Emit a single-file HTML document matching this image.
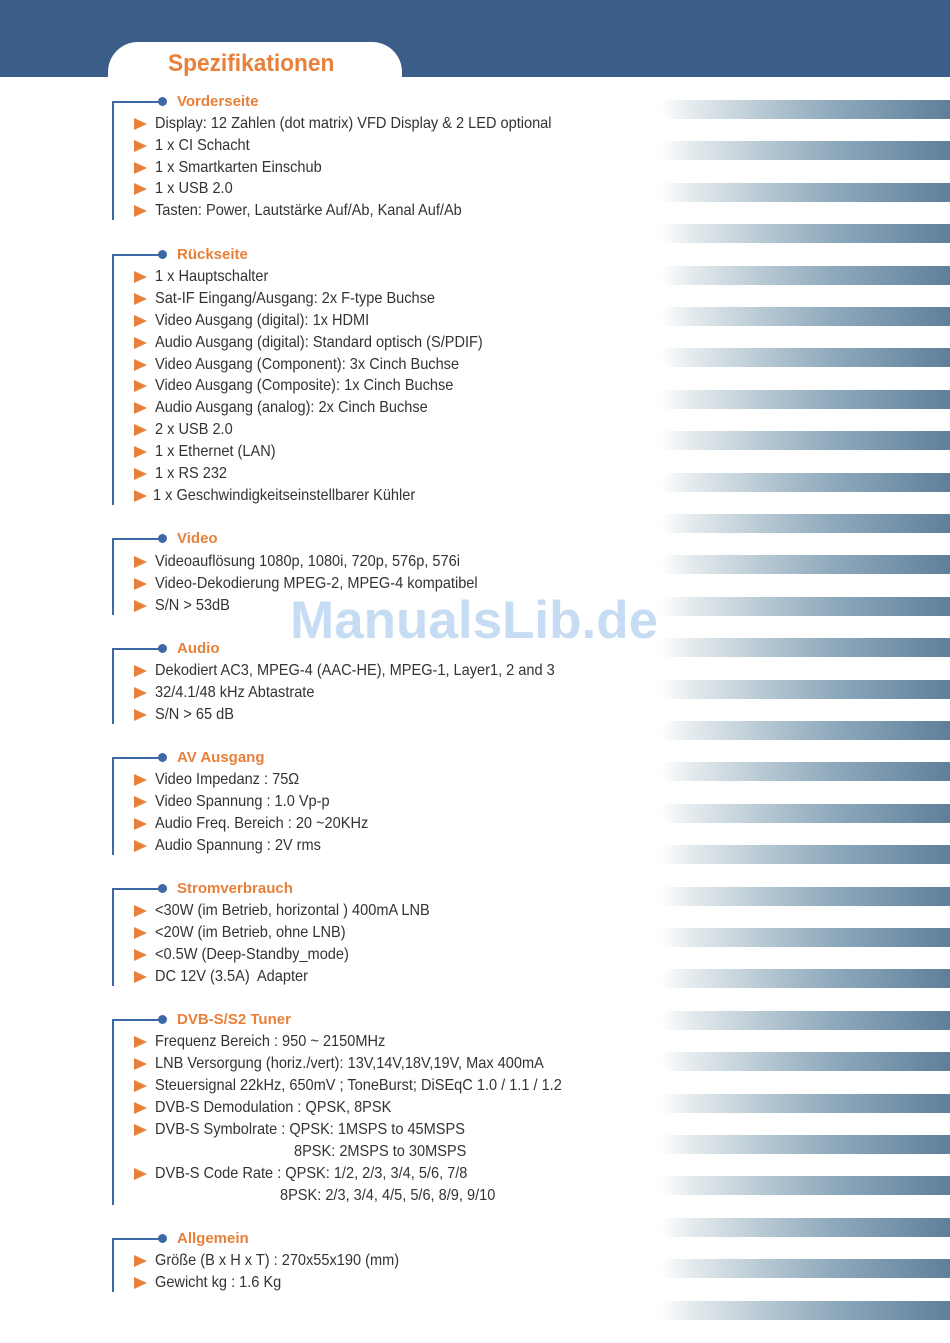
<!DOCTYPE html>
<html><head><meta charset="utf-8">
<style>
html,body{margin:0;padding:0;}
body{width:950px;height:1343px;position:relative;background:#fff;overflow:hidden;font-family:"Liberation Sans",sans-serif;}
.band{position:absolute;left:0;top:0;width:950px;height:77px;background:#3b5e88;}
.tab{position:absolute;left:108px;top:42px;width:294px;height:60px;background:#fff;border-radius:30px 30px 0 0;}
.title{position:absolute;left:168px;top:50px;font-weight:bold;font-size:24px;color:#e8803a;transform:scaleX(0.945);transform-origin:left;white-space:nowrap;}
.st{position:absolute;left:660px;width:290px;height:19px;background:linear-gradient(to right,#fff 0%,#e6ecef 10%,#b8c9d3 35%,#8ea9bc 60%,#5e7f9b 100%);}
.h{position:absolute;left:177px;height:20px;line-height:20px;font-weight:bold;font-size:15px;color:#e8803a;white-space:nowrap;}
.i{position:absolute;left:155px;height:20px;line-height:20px;font-size:16px;color:#333;white-space:pre;transform:scaleX(0.91);transform-origin:left;}
.a{position:absolute;left:134px;width:0;height:0;border-left:13px solid #e8803a;border-top:6px solid transparent;border-bottom:6px solid transparent;}
.vl{position:absolute;left:112px;width:2px;background:#3d68a6;}
.hl{position:absolute;left:112px;width:48px;height:2px;background:#3d68a6;}
.dot{position:absolute;left:158px;width:9px;height:9px;border-radius:50%;background:#3d68a6;}
.wm{position:absolute;left:290px;top:590px;font-weight:bold;font-size:53px;color:#bcd7f2;opacity:0.85;white-space:nowrap;}
</style></head><body>
<div class="band"></div>
<div class="tab"></div>
<div class="title">Spezifikationen</div>
<div class="st" style="top:100px"></div><div class="st" style="top:141px"></div><div class="st" style="top:183px"></div><div class="st" style="top:224px"></div><div class="st" style="top:266px"></div><div class="st" style="top:307px"></div><div class="st" style="top:348px"></div><div class="st" style="top:390px"></div><div class="st" style="top:431px"></div><div class="st" style="top:473px"></div><div class="st" style="top:514px"></div><div class="st" style="top:555px"></div><div class="st" style="top:597px"></div><div class="st" style="top:638px"></div><div class="st" style="top:680px"></div><div class="st" style="top:721px"></div><div class="st" style="top:762px"></div><div class="st" style="top:804px"></div><div class="st" style="top:845px"></div><div class="st" style="top:887px"></div><div class="st" style="top:928px"></div><div class="st" style="top:969px"></div><div class="st" style="top:1011px"></div><div class="st" style="top:1052px"></div><div class="st" style="top:1094px"></div><div class="st" style="top:1135px"></div><div class="st" style="top:1176px"></div><div class="st" style="top:1218px"></div><div class="st" style="top:1259px"></div><div class="st" style="top:1301px"></div>

<div class="vl" style="top:101px;height:119px"></div><div class="hl" style="top:101px"></div><div class="dot" style="top:97px"></div>
<div class="h" style="top:92px">Vorderseite</div>
<div class="a" style="top:118px"></div><div class="i" style="top:114px">Display: 12 Zahlen (dot matrix) VFD Display &amp; 2 LED optional</div>
<div class="a" style="top:140px"></div><div class="i" style="top:136px">1 x CI Schacht</div>
<div class="a" style="top:162px"></div><div class="i" style="top:158px">1 x Smartkarten Einschub</div>
<div class="a" style="top:183px"></div><div class="i" style="top:179px">1 x USB 2.0</div>
<div class="a" style="top:205px"></div><div class="i" style="top:201px">Tasten: Power, Lautstärke Auf/Ab, Kanal Auf/Ab</div>

<div class="vl" style="top:254px;height:251px"></div><div class="hl" style="top:254px"></div><div class="dot" style="top:250px"></div>
<div class="h" style="top:245px">Rückseite</div>
<div class="a" style="top:271px"></div><div class="i" style="top:267px">1 x Hauptschalter</div>
<div class="a" style="top:293px"></div><div class="i" style="top:289px">Sat-IF Eingang/Ausgang: 2x F-type Buchse</div>
<div class="a" style="top:315px"></div><div class="i" style="top:311px">Video Ausgang (digital): 1x HDMI</div>
<div class="a" style="top:337px"></div><div class="i" style="top:333px">Audio Ausgang (digital): Standard optisch (S/PDIF)</div>
<div class="a" style="top:359px"></div><div class="i" style="top:355px">Video Ausgang (Component): 3x Cinch Buchse</div>
<div class="a" style="top:380px"></div><div class="i" style="top:376px">Video Ausgang (Composite): 1x Cinch Buchse</div>
<div class="a" style="top:402px"></div><div class="i" style="top:398px">Audio Ausgang (analog): 2x Cinch Buchse</div>
<div class="a" style="top:424px"></div><div class="i" style="top:420px">2 x USB 2.0</div>
<div class="a" style="top:446px"></div><div class="i" style="top:442px">1 x Ethernet (LAN)</div>
<div class="a" style="top:468px"></div><div class="i" style="top:464px">1 x RS 232</div>
<div class="a" style="top:490px"></div><div class="i" style="top:486px;left:153px">1 x Geschwindigkeitseinstellbarer Kühler</div>

<div class="vl" style="top:538px;height:77px"></div><div class="hl" style="top:538px"></div><div class="dot" style="top:534px"></div>
<div class="h" style="top:529px">Video</div>
<div class="a" style="top:556px"></div><div class="i" style="top:552px">Videoauflösung 1080p, 1080i, 720p, 576p, 576i</div>
<div class="a" style="top:578px"></div><div class="i" style="top:574px">Video-Dekodierung MPEG-2, MPEG-4 kompatibel</div>
<div class="a" style="top:600px"></div><div class="i" style="top:596px">S/N &gt; 53dB</div>

<div class="vl" style="top:648px;height:76px"></div><div class="hl" style="top:648px"></div><div class="dot" style="top:644px"></div>
<div class="h" style="top:639px">Audio</div>
<div class="a" style="top:665px"></div><div class="i" style="top:661px">Dekodiert AC3, MPEG-4 (AAC-HE), MPEG-1, Layer1, 2 and 3</div>
<div class="a" style="top:687px"></div><div class="i" style="top:683px">32/4.1/48 kHz Abtastrate</div>
<div class="a" style="top:709px"></div><div class="i" style="top:705px">S/N &gt; 65 dB</div>

<div class="vl" style="top:757px;height:98px"></div><div class="hl" style="top:757px"></div><div class="dot" style="top:753px"></div>
<div class="h" style="top:748px">AV Ausgang</div>
<div class="a" style="top:774px"></div><div class="i" style="top:770px">Video Impedanz : 75Ω</div>
<div class="a" style="top:796px"></div><div class="i" style="top:792px">Video Spannung : 1.0 Vp-p</div>
<div class="a" style="top:818px"></div><div class="i" style="top:814px">Audio Freq. Bereich : 20 ~20KHz</div>
<div class="a" style="top:840px"></div><div class="i" style="top:836px">Audio Spannung : 2V rms</div>

<div class="vl" style="top:888px;height:98px"></div><div class="hl" style="top:888px"></div><div class="dot" style="top:884px"></div>
<div class="h" style="top:879px">Stromverbrauch</div>
<div class="a" style="top:905px"></div><div class="i" style="top:901px">&lt;30W (im Betrieb, horizontal ) 400mA LNB</div>
<div class="a" style="top:927px"></div><div class="i" style="top:923px">&lt;20W (im Betrieb, ohne LNB)</div>
<div class="a" style="top:949px"></div><div class="i" style="top:945px">&lt;0.5W (Deep-Standby_mode)</div>
<div class="a" style="top:971px"></div><div class="i" style="top:967px">DC 12V (3.5A)  Adapter</div>

<div class="vl" style="top:1019px;height:186px"></div><div class="hl" style="top:1019px"></div><div class="dot" style="top:1015px"></div>
<div class="h" style="top:1010px">DVB-S/S2 Tuner</div>
<div class="a" style="top:1036px"></div><div class="i" style="top:1032px">Frequenz Bereich : 950 ~ 2150MHz</div>
<div class="a" style="top:1058px"></div><div class="i" style="top:1054px">LNB Versorgung (horiz./vert): 13V,14V,18V,19V, Max 400mA</div>
<div class="a" style="top:1080px"></div><div class="i" style="top:1076px">Steuersignal 22kHz, 650mV ; ToneBurst; DiSEqC 1.0 / 1.1 / 1.2</div>
<div class="a" style="top:1102px"></div><div class="i" style="top:1098px">DVB-S Demodulation : QPSK, 8PSK</div>
<div class="a" style="top:1124px"></div><div class="i" style="top:1120px">DVB-S Symbolrate : QPSK: 1MSPS to 45MSPS</div>
<div class="i" style="top:1142px;left:294px">8PSK: 2MSPS to 30MSPS</div>
<div class="a" style="top:1168px"></div><div class="i" style="top:1164px">DVB-S Code Rate : QPSK: 1/2, 2/3, 3/4, 5/6, 7/8</div>
<div class="i" style="top:1186px;left:280px">8PSK: 2/3, 3/4, 4/5, 5/6, 8/9, 9/10</div>

<div class="vl" style="top:1238px;height:54px"></div><div class="hl" style="top:1238px"></div><div class="dot" style="top:1234px"></div>
<div class="h" style="top:1229px">Allgemein</div>
<div class="a" style="top:1255px"></div><div class="i" style="top:1251px">Größe (B x H x T) : 270x55x190 (mm)</div>
<div class="a" style="top:1277px"></div><div class="i" style="top:1273px">Gewicht kg : 1.6 Kg</div>

<div class="wm">ManualsLib.de</div>
</body></html>
